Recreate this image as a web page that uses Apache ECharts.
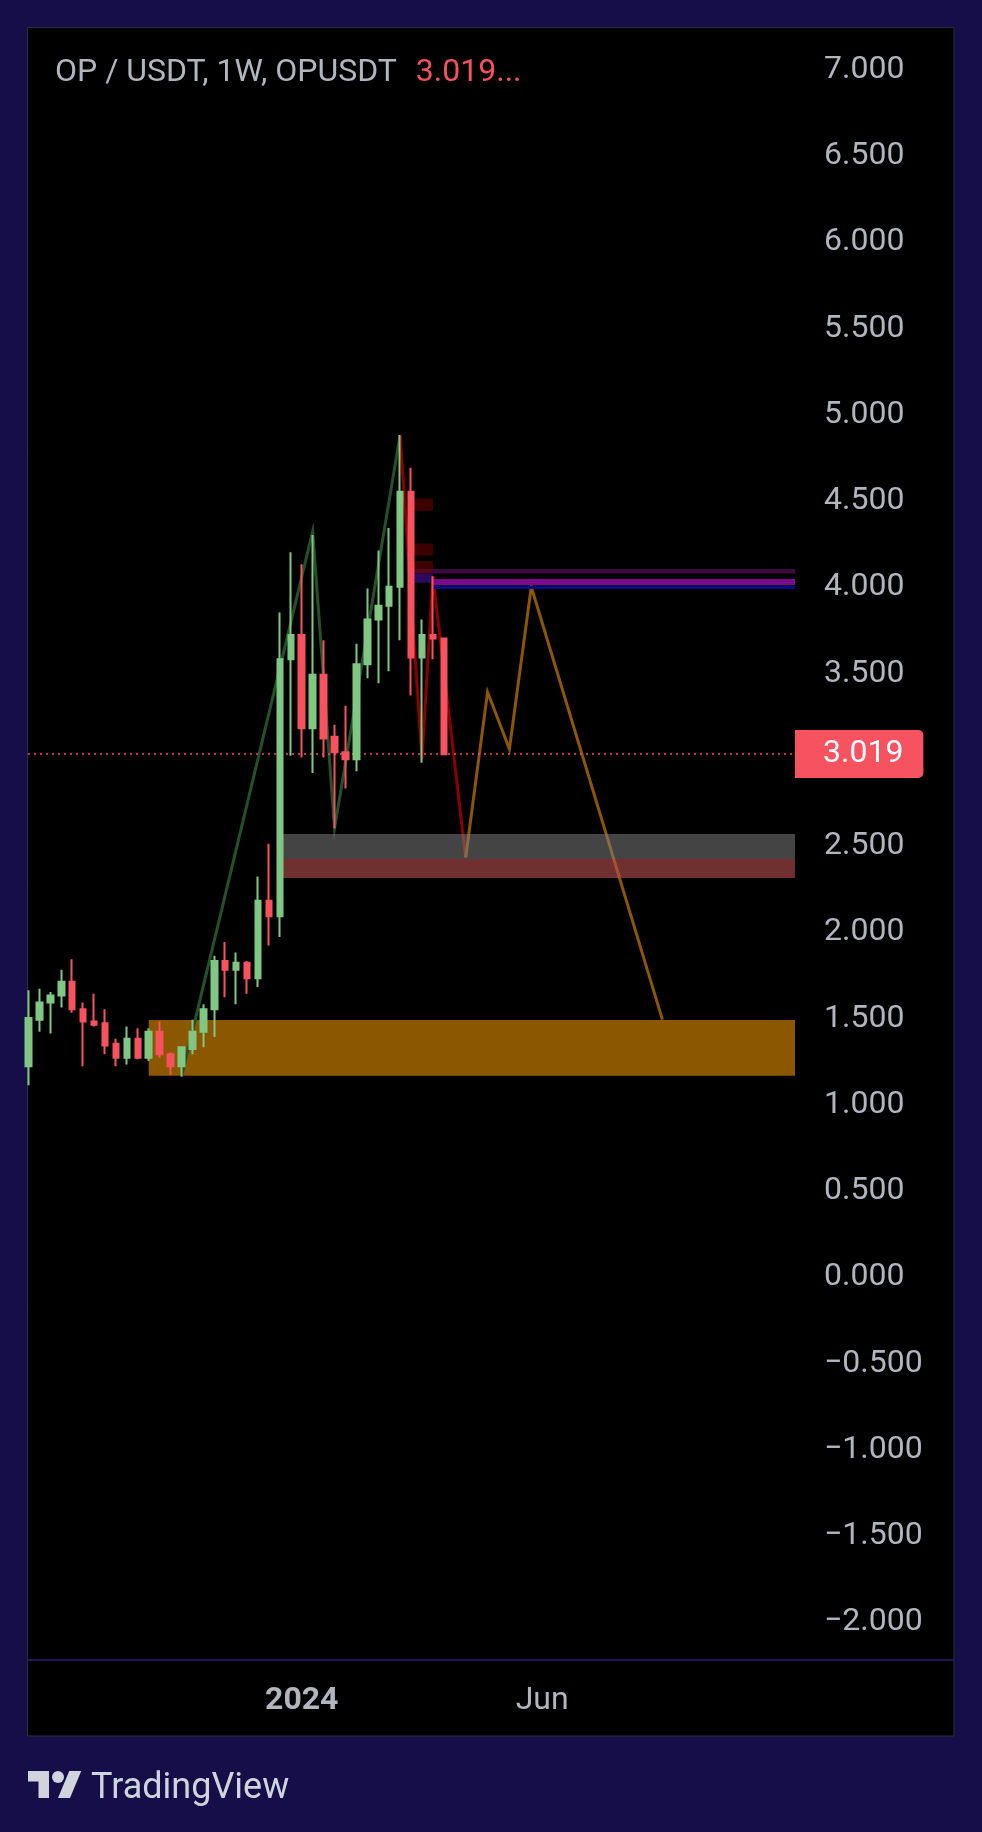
<!DOCTYPE html>
<html><head><meta charset="utf-8">
<script src="https://cdn.jsdelivr.net/npm/echarts@6/dist/echarts.min.js"></script>
<style>html,body{margin:0;padding:0;background:#160e48;}#c{width:982px;height:1832px;}</style>
</head><body><div id="c"></div>
<script>
// ---- data (weekly OP/USDT candles, week of 2023-07-10 .. 2024-04-01) ----
const weeks = ['2023-07-10','2023-07-17','2023-07-24','2023-07-31','2023-08-07','2023-08-14','2023-08-21','2023-08-28','2023-09-04','2023-09-11',
  '2023-09-18','2023-09-25','2023-10-02','2023-10-09','2023-10-16','2023-10-23','2023-10-30','2023-11-06','2023-11-13','2023-11-20',
  '2023-11-27','2023-12-04','2023-12-11','2023-12-18','2023-12-25','2024-01-01','2024-01-08','2024-01-15','2024-01-22','2024-01-29',
  '2024-02-05','2024-02-12','2024-02-19','2024-02-26','2024-03-04','2024-03-11','2024-03-18','2024-03-25','2024-04-01'];
const opens  = [1.21,1.48,1.58,1.62,1.70,1.54,1.47,1.46,1.34,1.26,1.37,1.26,1.41,1.28,1.21,1.31,1.41,1.54,1.82,1.77,1.81,1.72,2.17,2.08,3.57,3.71,3.17,3.48,3.12,3.03,2.99,3.54,3.80,3.88,3.99,4.54,3.58,3.71,3.69];
const closes = [1.49,1.58,1.62,1.70,1.54,1.47,1.45,1.33,1.26,1.37,1.26,1.41,1.28,1.21,1.32,1.41,1.54,1.82,1.77,1.81,1.72,2.17,2.08,3.57,3.71,3.17,3.48,3.11,3.03,2.99,3.54,3.80,3.88,3.99,4.54,3.58,3.71,3.69,3.019];
const lows   = [1.10,1.41,1.40,1.55,1.52,1.21,1.44,1.28,1.21,1.22,1.25,1.24,1.26,1.16,1.15,1.28,1.32,1.38,1.61,1.57,1.63,1.67,1.91,1.96,3.01,3.00,2.91,3.00,2.59,2.82,2.92,3.46,3.43,3.50,3.68,3.36,2.97,3.57,3.019];
const highs  = [1.65,1.66,1.64,1.77,1.83,1.58,1.63,1.54,1.37,1.44,1.43,1.43,1.47,1.29,1.32,1.48,1.57,1.85,1.93,1.87,1.82,2.31,2.50,3.84,4.19,4.12,4.29,3.68,3.19,3.30,3.66,3.98,4.20,4.33,4.87,4.68,3.80,4.05,3.69];
const lastPrice = 3.019;

// drawings (x = week index from first candle, y = price)
const greenZigzag = [[14,1.15],[26,4.31],[28,2.59],[34,4.87]];
const redZigzag   = [[34,4.87],[36,2.99],[37,4.05],[40,2.42]];
const projection  = [[40,2.42],[42,3.38],[44,3.05],[46,3.99],[58,1.48]];

// rectangles: [fromIndex, toIndex, low, high]; toIndex null = chart edge
const demandZone  = [[11, null, 1.155, 1.478]];
const grayZone    = [[23, null, 2.412, 2.556]];
const redZone     = [[23, null, 2.302, 2.412]];
const supplyBlocks= [[35, 37, 4.43, 4.50],[35, 37, 4.17, 4.24],[35, 37, 4.093, 4.139],[35, 37, 4.066, 4.093]];
const darkPurpleBand = [[35, null, 4.066, 4.093]];
const indigoBlock = [[35, 37, 4.013, 4.066]];
const purpleBand  = [[37, null, 4.000, 4.035]];
const blueBand    = [[37, null, 3.977, 3.996]];

const priceTicks = [-2,-1.5,-1,-0.5,0,0.5,1,1.5,2,2.5,3,3.5,4,4.5,5,5.5,6,6.5,7];
const timeTickIdx = [25, 47];
const timeTickText = ['2024', 'Jun'];

// ---- chart ----
const X_MIN = -0.046, X_MAX = 70.13;
const Y_MIN = -2.232, Y_MAX = 7.229;
const UP = '#81c784', DOWN = '#f7525f', TXT = '#b2b5be';
const FONT = 'Roboto, "Noto Sans", sans-serif';

const candles = weeks.map((w, i) => [i, opens[i], closes[i], lows[i], highs[i]]);
const fill = rows => rows.map(r => [r[0], r[1] == null ? X_MAX : r[1], r[2], r[3]]);

function rectSeries(rows, color, z) {
  return {
    type: 'custom', z: z, clip: true, silent: true,
    encode: { x: [0, 1], y: [2, 3] },
    data: fill(rows),
    renderItem: function (params, api) {
      const a = api.coord([api.value(0), api.value(3)]);
      const b = api.coord([api.value(1), api.value(2)]);
      return { type: 'rect', shape: { x: a[0], y: a[1], width: b[0] - a[0], height: b[1] - a[1] }, style: { fill: color } };
    }
  };
}
function lineSeries(pts, color, z) {
  return {
    type: 'line', z: z, data: pts, symbol: 'none', silent: true, animation: false,
    lineStyle: { color: color, width: 3, join: 'miter' }
  };
}

const chart = echarts.init(document.getElementById('c'), null, { renderer: 'canvas', width: 982, height: 1832 });
chart.setOption({
  animation: false,
  backgroundColor: '#160e48',
  title: {
    left: 50, top: 49,
    text: '{a|OP / USDT, 1W, OPUSDT}{b|3.019...}',
    textStyle: {
      fontWeight: 'normal',
      rich: {
        a: { fontFamily: FONT, fontSize: 32, fontWeight: 'normal', color: TXT, lineHeight: 38 },
        b: { fontFamily: FONT, fontSize: 32, fontWeight: 'normal', color: DOWN, lineHeight: 38, padding: [0, 0, 0, 19] }
      }
    }
  },
  grid: { left: 28, right: 187, top: 28, bottom: 172, containLabel: false },
  xAxis: {
    type: 'value', min: X_MIN, max: X_MAX,
    axisLine: { show: false }, axisTick: { show: false }, splitLine: { show: false },
    axisLabel: {
      customValues: timeTickIdx,
      margin: 23,
      fontFamily: FONT, fontSize: 32, color: TXT, lineHeight: 36,
      formatter: function (v) {
        const k = timeTickIdx.indexOf(Math.round(v));
        const t = k >= 0 ? timeTickText[k] : '';
        return k === 0 ? '{b|' + t + '}' : t;
      },
      rich: { b: { fontFamily: FONT, fontSize: 32, color: TXT, fontWeight: 'bold', lineHeight: 36 } }
    }
  },
  yAxis: {
    type: 'value', position: 'right', min: Y_MIN, max: Y_MAX, scale: true,
    axisLine: { show: false }, axisTick: { show: false }, splitLine: { show: false },
    axisLabel: {
      customValues: priceTicks,
      margin: 29, align: 'left',
      fontFamily: FONT, fontSize: 32, color: TXT,
      formatter: v => '{v|' + (v < 0 ? '\u2212' : '') + Math.abs(v).toFixed(3) + '}',
      rich: { v: { fontFamily: FONT, fontSize: 32, color: TXT, lineHeight: 36, padding: [5, 0, 0, 0] } }
    }
  },
  graphic: [
    { type: 'rect', z: -10, silent: true, shape: { x: 27.5, y: 27.5, width: 926.5, height: 1708.5 }, style: { fill: '#000000', stroke: '#2c2c3c', lineWidth: 1 } },
    { type: 'rect', z: 10, silent: true, shape: { x: 28, y: 1659, width: 926, height: 2 }, style: { fill: '#1d1660' } },
    { type: 'polygon', z: 10, silent: true, shape: { points: [[28,1771],[49,1771],[49,1798],[38.5,1798],[38.5,1781.5],[28,1781.5]] }, style: { fill: '#d1d4dc' } },
    { type: 'circle', z: 10, silent: true, shape: { cx: 58, cy: 1777, r: 6 }, style: { fill: '#d1d4dc' } },
    { type: 'polygon', z: 10, silent: true, shape: { points: [[58,1798],[69.25,1771],[81.25,1771],[70,1798]] }, style: { fill: '#d1d4dc' } },
    { type: 'text', z: 10, silent: true, left: 91, top: 1771, style: { text: 'TradingView', font: '36px Roboto', fill: '#d1d4dc' } }
  ],
  series: [
    rectSeries(demandZone, '#8b5700', 1),
    lineSeries(greenZigzag, '#23522a', 2),
    lineSeries(redZigzag, '#8a0000', 2),
    lineSeries(projection, '#8d5600', 2),
    rectSeries(grayZone, 'rgba(128,128,128,0.53)', 3),
    rectSeries(redZone, 'rgba(180,77,77,0.62)', 3),
    rectSeries(darkPurpleBand, '#3a0b3d', 3),
    rectSeries(supplyBlocks, 'rgba(120,0,0,0.5)', 3),
    rectSeries(indigoBlock, '#2b0a5e', 3),
    rectSeries(purpleBand, '#7b0a8c', 3),
    rectSeries(blueBand, '#0a0a85', 3),
    {
      type: 'candlestick', z: 5, data: candles, barWidth: 6, silent: true,
      encode: { x: 0, y: [1, 2, 3, 4] },
      itemStyle: { color: UP, color0: DOWN, borderColor: UP, borderColor0: DOWN, borderWidth: 2 },
      markLine: {
        silent: true, symbol: ['none', 'none'], animation: false,
        lineStyle: { color: DOWN, type: [2, 4], width: 1.5 },
        label: {
          show: true, position: 'end', distance: 0,
          formatter: lastPrice.toFixed(3),
          fontFamily: FONT, fontSize: 32, color: '#ffffff', lineHeight: 36,
          backgroundColor: DOWN, padding: [8, 20, 4, 28], borderRadius: [0, 5, 5, 0]
        },
        data: [{ yAxis: lastPrice }]
      }
    }
  ]
});
</script></body></html>
